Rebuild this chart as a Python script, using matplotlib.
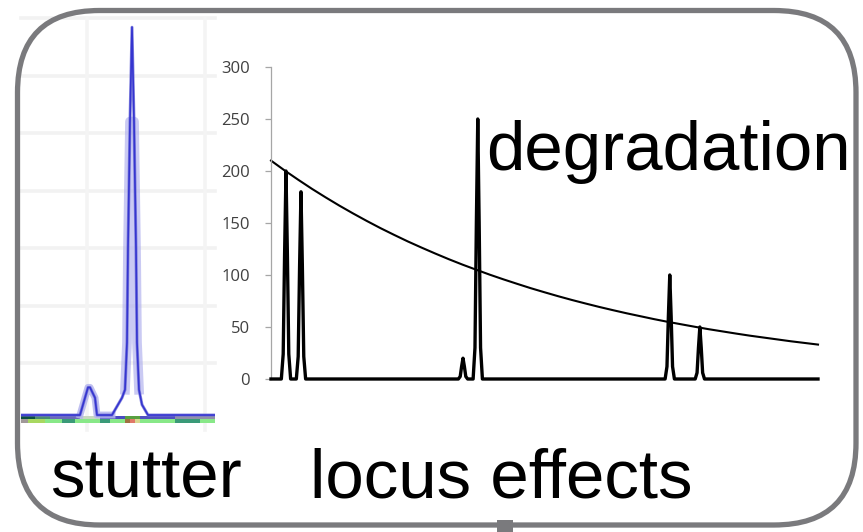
import matplotlib
matplotlib.use("Agg")
import matplotlib.pyplot as plt
from matplotlib.patches import FancyBboxPatch, Rectangle

# ---------------- data ----------------
# main panel: peak positions (arbitrary size units 0-100) and heights
PEAK_POS = [2.74, 5.48, 35.1, 37.8, 72.9, 78.4]
PEAK_HEIGHT = [200, 180, 20, 250, 100, 50]
# degradation curve
DECAY_X = [0, 2.5, 5, 7.5, 10, 12.5, 15, 17.5, 20, 22.5, 25, 27.5, 30, 32.5, 35, 37.5, 40,
           42.5, 45, 47.5, 50, 52.5, 55, 57.5, 60, 62.5, 65, 67.5, 70, 72.5, 75, 77.5, 80,
           82.5, 85, 87.5, 90, 92.5, 95, 97.5, 100]
DECAY_Y = [210, 200.5, 191.5, 182.8, 174.6, 166.7, 159.2, 152.0, 145.1, 138.6, 132.3, 126.4,
           120.7, 115.2, 110.0, 105.1, 100.3, 95.8, 91.5, 87.3, 83.4, 79.6, 76.0, 72.6, 69.3,
           66.2, 63.2, 60.4, 57.6, 55.0, 52.6, 50.2, 47.9, 45.8, 43.7, 41.7, 39.9, 38.1, 36.3,
           34.7, 33.1]
Y_TICKS = [0, 50, 100, 150, 200, 250, 300]

# stutter panel trace (scan units vs signal)
STUTTER_X = [0, 59, 64, 67, 69, 74, 76, 91, 97, 101, 104, 106, 107, 109, 111, 113, 115, 116, 118, 121, 127, 194]
STUTTER_Y = [0, 0, 15, 24, 24, 15, 0, 0, 9, 15, 22, 63, 145, 255, 337, 255, 145, 63, 22, 9, 0, 0]
STUTTER_GRID_Y = [45, 95, 145, 195, 245, 295, 345]
STUTTER_GRID_X = [66, 184]
# colour strip under the trace: (start, end, colour)
STRIP_TOP = [(0, 14, '#0b4f3f'), (14, 29, '#4a8a70'), (29, 59, '#6a6ab8'), (59, 79, '#c8d8c0'),
             (79, 104, '#4a4ac0'), (104, 119, '#58a040'), (119, 154, '#5050c0'), (154, 194, '#9090a8')]
STRIP_BOTTOM = [(0, 7, '#a09898'), (7, 24, '#a8d860'), (24, 41, '#88e888'), (41, 54, '#3a9a78'),
                (54, 79, '#88e888'), (79, 89, '#3a9a78'), (89, 104, '#88e888'), (104, 109, '#a07040'),
                (109, 114, '#e07868'), (114, 119, '#d8d890'), (119, 154, '#88e888'), (154, 179, '#3a9a78'),
                (179, 194, '#88e888')]

# ---------------- layout helpers ----------------
W, H = 863, 532
fig = plt.figure(figsize=(W / 100, H / 100), dpi=100)


def px_rect(x0, y0, x1, y1):
    return [x0 / W, 1 - y1 / H, (x1 - x0) / W, (y1 - y0) / H]


frame_col = '#7a7a7d'

# ---------------- stutter panel ----------------
ax2 = fig.add_axes(px_rect(21, 18, 215, 430), zorder=1)
ax2.patch.set_visible(False)
ax2.set_xlim(0, 194)
ax2.set_ylim(-13, 345)
for s in ax2.spines.values():
    s.set_visible(False)
ax2.set_xticks([])
ax2.set_yticks([])
for gy in STUTTER_GRID_Y:
    ax2.axhline(gy, color='#f2f2f2', lw=2.6, zorder=0, clip_on=False)
for gx in STUTTER_GRID_X:
    ax2.axvline(gx, color='#f4f4f4', lw=2.6, zorder=0, clip_on=False)
ax2.broken_barh([(a, b - a) for a, b, c in STRIP_TOP], (-3.5, 2.8),
                facecolors=[c for a, b, c in STRIP_TOP], lw=0, zorder=1)
ax2.broken_barh([(a, b - a) for a, b, c in STRIP_BOTTOM], (-7, 3.5),
                facecolors=[c for a, b, c in STRIP_BOTTOM], lw=0, zorder=1)
# soft halo around the peaks (resampled look of the original image)
ax2.plot(STUTTER_X[1:8], STUTTER_Y[1:8], color='#b4b4ee', lw=5, alpha=0.85, zorder=2)
ax2.plot(STUTTER_X[10:19], [min(v, 255) for v in STUTTER_Y[10:19]], color='#a8a8ec',
         lw=7, alpha=0.6, zorder=2)
ax2.plot(STUTTER_X, STUTTER_Y, color='#7070d8', lw=2.2, alpha=0.8, zorder=3)
ax2.plot(STUTTER_X, STUTTER_Y, color='#3535d0', lw=1.2, zorder=4)

# ---------------- main panel ----------------
ax = fig.add_axes(px_rect(271, 67, 818, 379), zorder=2)
ax.patch.set_visible(False)
ax.set_xlim(0, 100)
ax.set_ylim(0, 300)
for side in ['top', 'right', 'bottom']:
    ax.spines[side].set_visible(False)
ax.spines['left'].set_color('#a6a6a6')
ax.spines['left'].set_linewidth(0.9)
ax.set_xticks([])
ax.set_yticks(Y_TICKS)
ax.set_yticklabels([str(t) for t in Y_TICKS], fontsize=12, family='Open Sans', color='#404040')
ax.tick_params(axis='y', direction='out', length=4.5, width=0.9, color='#a6a6a6', pad=10.5)

# peak trace built from the peak table
hw = 0.85
tmpl_off = [-1.0, -0.6, -0.3, 0.0, 0.3, 0.6, 1.0]
tmpl_frac = [0.0, 0.12, 0.6, 1.0, 0.6, 0.12, 0.0]
xs, ys = [0.0], [0.0]
for c, h in zip(PEAK_POS, PEAK_HEIGHT):
    for o, f in zip(tmpl_off, tmpl_frac):
        xs.append(c + o * hw)
        ys.append(h * f)
xs.append(100.0)
ys.append(0.0)
ax.plot(xs, ys, color='black', lw=2.4, clip_on=False, solid_joinstyle='round', zorder=3)
ax.plot(DECAY_X, DECAY_Y, color='black', lw=1.5, clip_on=False, zorder=2)

# ---------------- frame on top ----------------
top = fig.add_axes([0, 0, 1, 1], zorder=4)
top.patch.set_visible(False)
top.set_xlim(0, W)
top.set_ylim(H, 0)
top.axis('off')
top.add_patch(Rectangle((497, 520), 16, 12, color=frame_col, lw=0))
top.add_patch(FancyBboxPatch((17.5, 10.5), 856 - 17.5, 525 - 10.5,
                             boxstyle="round,pad=0,rounding_size=82",
                             fill=False, ec=frame_col, lw=3.8))

# ---------------- labels ----------------
def ftext(x, y, s):
    fig.text(x / W, 1 - y / H, s, fontsize=49.8, family='Liberation Sans',
             ha='left', va='baseline', color='black', zorder=5)


ftext(50, 498, 'stutter')
ftext(310, 498, 'locus effects')
ftext(486, 170, 'degradation')

fig.savefig('out.png', dpi=100)
